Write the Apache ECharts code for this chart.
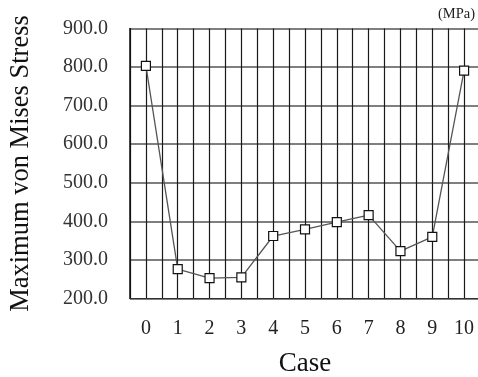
<!DOCTYPE html>
<html><head><meta charset="utf-8">
<script src="https://cdn.jsdelivr.net/npm/echarts@6/dist/echarts.min.js"></script>
<style>html,body{margin:0;padding:0;background:#fff}#c{width:478px;height:377px}</style>
</head><body><div id="c"></div>
<script>
var cases = [0,1,2,3,4,5,6,7,8,9,10];
var stress = [803,276,253,255,362,379,398,416,323,360,791];
var yTicks = [200,300,400,500,600,700,800,900];

var chart = echarts.init(document.getElementById('c'), null, {renderer:'canvas'});
var font = '"Liberation Serif","Times New Roman",serif';
chart.setOption({
  animation:false,
  backgroundColor:'#fff',
  grid:{left:130, top:28.5, width:350, height:270, containLabel:false, outerBoundsMode:'none'},
  graphic:[{type:'text', right:3, top:7, style:{text:'(MPa)', font:'14.5px '+font, fill:'#222'}}],
  xAxis:{
    type:'value', min:-0.5, max:10.5, interval:0.5,
    name:'Case', nameLocation:'middle', nameGap:52,
    nameTextStyle:{fontFamily:font, fontSize:27, color:'#111', verticalAlign:'top'},
    axisLine:{show:true, onZero:false, lineStyle:{color:'#333', width:1}},
    axisTick:{show:false},
    axisLabel:{fontFamily:font, fontSize:20, color:'#222', margin:20,
      formatter:function(v){ return (Math.abs(v-Math.round(v))<1e-6 && cases.indexOf(Math.round(v))>=0) ? String(Math.round(v)) : ''; }},
    splitLine:{show:true, lineStyle:{color:'#1a1a1a', width:1.2}}
  },
  yAxis:{
    type:'value', min:yTicks[0], max:yTicks[yTicks.length-1], interval:100,
    name:'Maximum von Mises Stress', nameLocation:'middle', nameGap:95, nameRotate:90,
    nameTextStyle:{fontFamily:font, fontSize:26.5, color:'#111'},
    axisLine:{show:true, onZero:false, lineStyle:{color:'#111', width:1.5}},
    axisTick:{show:false},
    axisLabel:{fontFamily:font, fontSize:20, color:'#333', margin:22,
      formatter:function(v){return v.toFixed(1);}},
    splitLine:{show:true, lineStyle:{color:'#555', width:1.5}}
  },
  series:[{
    type:'line',
    data:cases.map(function(c,i){return [c, stress[i]];}),
    symbol:'rect', symbolSize:9,
    itemStyle:{color:'#fff', borderColor:'#111', borderWidth:1.2},
    lineStyle:{color:'#555', width:1.3},
    z:5
  }]
});
</script></body></html>
